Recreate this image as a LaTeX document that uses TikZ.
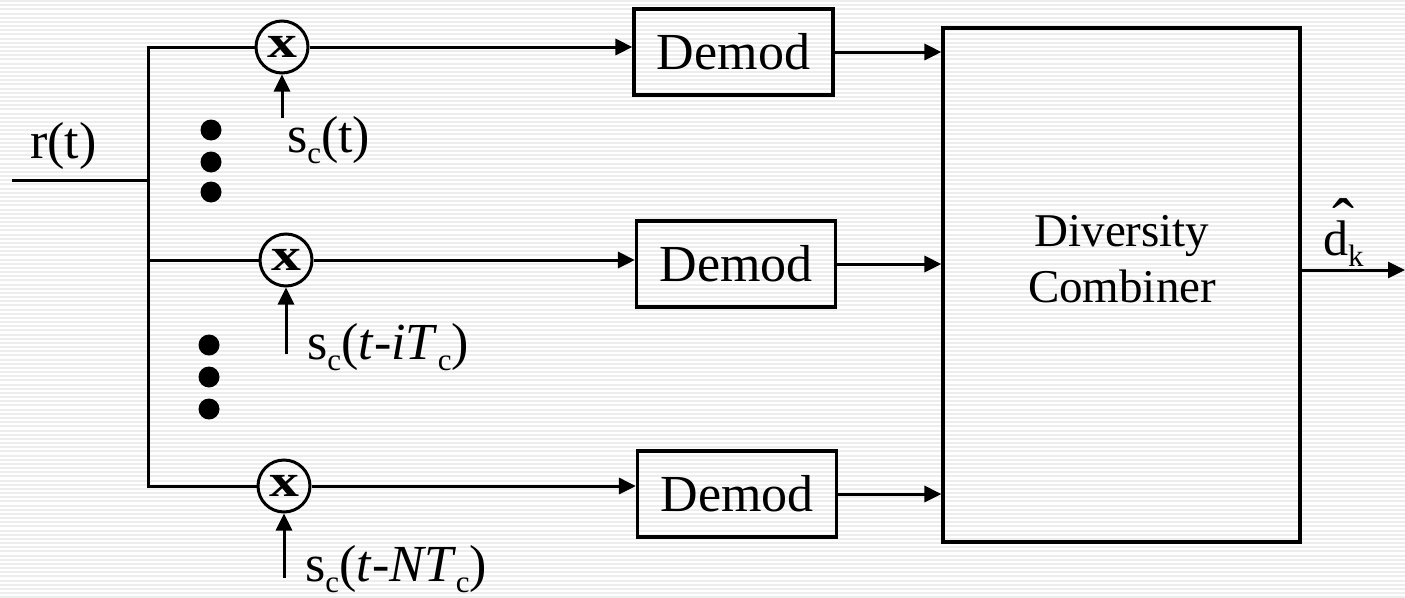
\documentclass[tikz,border=0pt]{standalone}
\usepackage{fontspec}
\setmainfont{Liberation Serif}
\usetikzlibrary{arrows.meta}
% lowered subscript in a smaller size
\newcommand\lowsub[1]{\raisebox{-11pt}{\fontsize{31}{31}\selectfont #1}}
% a wide circumflex set high over the following letter
\newcommand\highhat{\rlap{\hspace{9pt}\raisebox{11pt}{\fontsize{66}{66}\selectfont ˆ}}}
\begin{document}
\begin{tikzpicture}[x=1pt,y=-1pt,
  wire/.style={line width=3pt},
  arr/.style={wire,-{Triangle[length=17pt,width=16pt]}},
  blk/.style={draw,line width=3.2pt,inner sep=0pt},
  demodbox/.style={blk,minimum width=199pt,minimum height=86pt,font=\fontsize{52}{60}\selectfont},
  mult/.style={draw,circle,line width=3pt,minimum size=52pt,inner sep=0pt,font=\fontsize{46}{46}\selectfont\bfseries},
  lbl/.style={font=\fontsize{52}{60}\selectfont,inner sep=0pt,anchor=base west},
  bigdot/.style={circle,fill,minimum size=21pt,inner sep=0pt},
]
\useasboundingbox (0,0) rectangle (1405,597);
% striped background
\fill[white] (0,0) rectangle (1405,597);
\foreach \k in {0,...,143} \fill[gray!14] (0,{\k*4.17}) rectangle (1405,{\k*4.17+2});

% multipliers
\node[mult] (m1) at (282,47) {\scalebox{1.3}[1]{x}};
\node[mult] (m2) at (286,260) {\scalebox{1.3}[1]{x}};
\node[mult] (m3) at (284,486) {\scalebox{1.3}[1]{x}};

% demodulators and combiner
\node[demodbox] (d1) at (733.5,52) {Demod};
\node[demodbox] (d2) at (736,264) {Demod};
\node[demodbox] (d3) at (737,494) {Demod};
\node[blk,minimum width=357pt,minimum height=514pt] (comb) at (1121.5,285) {};
\node[font=\fontsize{47}{56}\selectfont,align=center,inner sep=0pt] (combtext) at (1122,259) {Diversity\\Combiner};

% input and distribution bus
\coordinate (rin) at (12,180);
\coordinate (bx) at (148,180);
\draw[wire] (rin) -- (bx);
\draw[wire] (m1.west) -- (m1.west -| bx) -- (m3.west -| bx) -- (m3.west);
\draw[wire] (m2.west -| bx) -- (m2.west);

% spreading-code inputs
\coordinate (s1) at (m1.south |- 0,118);
\coordinate (s2) at (m2.south |- 0,354);
\coordinate (s3) at (m3.south |- 0,578);
\draw[arr] (s1) -- (m1.south);
\draw[arr] (s2) -- (m2.south);
\draw[arr] (s3) -- (m3.south);

% branch signal paths
\draw[arr] (m1.east) -- (m1.east -| d1.west);
\draw[arr] (m2.east) -- (m2.east -| d2.west);
\draw[arr] (m3.east) -- (m3.east -| d3.west);
\draw[arr] (d1.east) -- (d1.east -| comb.west);
\draw[arr] (d2.east) -- (d2.east -| comb.west);
\draw[arr] (d3.east) -- (d3.east -| comb.west);

% output
\coordinate (out) at (1405,270);
\draw[arr] (comb.east |- out) -- (out);

% labels
\node[lbl] (rt) at (30,158) {r(t)};
\node[lbl] (sc1) at (287,152) {s\lowsub{c}(t)};
\node[lbl] (sc2) at (307,359) {s\lowsub{c}(\textit{t}-\textit{iT}\lowsub{c})};
\node[lbl] (sc3) at (305,581) {s\lowsub{c}(\textit{t}-\textit{NT}\lowsub{c})};
\node[lbl,font=\fontsize{50}{54}\selectfont] (dk) at (1323,255) {\highhat d\lowsub{k}};

% ellipsis dots
\node[bigdot] (e1) at (211,130) {};
\node[bigdot] (e2) at (211,162) {};
\node[bigdot] (e3) at (211,192) {};
\node[bigdot] (e4) at (209,345) {};
\node[bigdot] (e5) at (209,377) {};
\node[bigdot] (e6) at (209,409) {};
\end{tikzpicture}
\end{document}
